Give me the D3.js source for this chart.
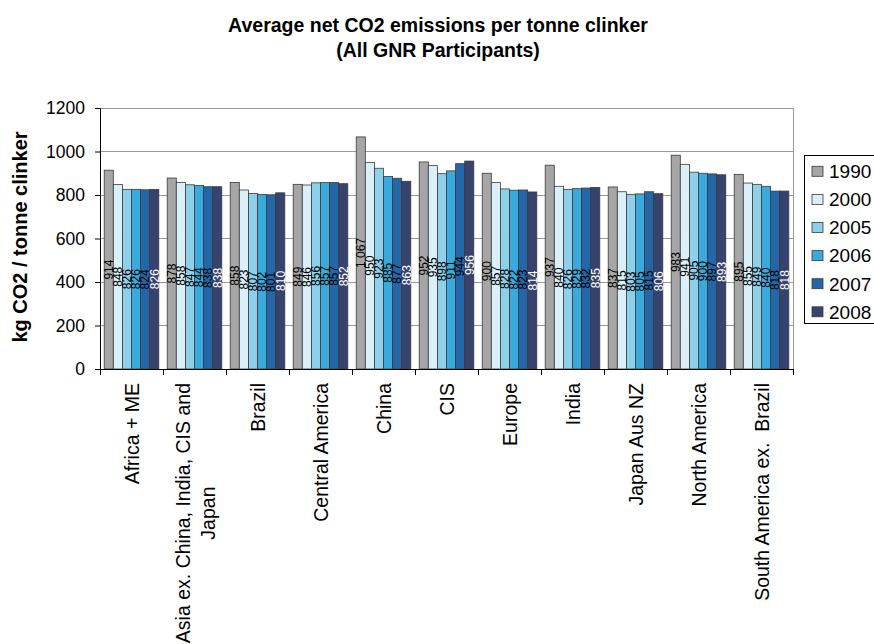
<!DOCTYPE html>
<html><head><meta charset="utf-8">
<script src="https://cdn.jsdelivr.net/npm/d3@7/dist/d3.min.js"></script>
<style>
html,body{margin:0;padding:0;background:#fff;}
svg{display:block;font-family:"Liberation Sans",Arial,sans-serif;}
</style></head>
<body>
<svg id="chart" width="874" height="644"></svg>
<script>
const categories = ["Africa + ME","Asia ex. China, India, CIS and Japan","Brazil","Central America","China","CIS","Europe","India","Japan Aus NZ","North America","South America ex.  Brazil"];
const years = ["1990","2000","2005","2006","2007","2008"];
const v1990 = [914,878,858,849,1067,952,900,937,837,983,895];
const v2000 = [848,858,823,846,950,935,857,840,815,941,855];
const v2005 = [826,847,807,856,923,898,828,826,803,905,849];
const v2006 = [826,844,802,857,885,911,822,829,805,900,840];
const v2007 = [824,838,801,857,877,944,823,832,815,897,818];
const v2008 = [826,838,810,852,863,956,814,835,806,893,818];
const yTicks = [0,200,400,600,800,1000,1200];
const colors = ["#a6a6a6","#dbeff8","#8ecfea","#3aaadc","#2467a8","#37436f"];
const labelColors = ["#000","#000","#000","#000","#000","#fff"];
const series = [v1990,v2000,v2005,v2006,v2007,v2008];

const svg = d3.select("#chart");
const L=100,R=793,T=108,B=369;

const y = d3.scaleLinear().domain([0,1200]).range([B,T]);
const x0 = d3.scaleBand().domain(categories).range([L,R]).padding(0);
const bw = x0.bandwidth();
const x1 = d3.scaleBand().domain(years).range([4.2,bw-4.2]).padding(0);

// gridlines
svg.append("g").selectAll("line").data(yTicks.filter(d=>d>0)).join("line")
  .attr("x1",L).attr("x2",R).attr("y1",d=>y(d)).attr("y2",d=>y(d))
  .attr("stroke","#999").attr("stroke-width",1).attr("shape-rendering","crispEdges");
// right border
svg.append("line").attr("x1",R).attr("x2",R).attr("y1",T).attr("y2",B)
  .attr("stroke","#999").attr("shape-rendering","crispEdges");

// bars
const data = [];
categories.forEach((c,i)=>years.forEach((yr,j)=>data.push({c,yr,j,v:series[j][i]})));
const g = svg.append("g");
g.selectAll("rect").data(data).join("rect")
  .attr("x",d=>x0(d.c)+x1(d.yr))
  .attr("y",d=>y(d.v))
  .attr("width",x1.bandwidth())
  .attr("height",d=>B-y(d.v))
  .attr("fill",d=>colors[d.j])
  .attr("stroke","#3a3a3a").attr("stroke-width",0.8);

// data labels
const fmt = d3.formatLocale({decimal:".",thousands:" ",grouping:[3],currency:["",""]}).format(",");
g.selectAll("text.dl").data(data).join("text").attr("class","dl")
  .attr("transform",d=>`translate(${x0(d.c)+x1(d.yr)+x1.bandwidth()/2},${(y(d.v)+B)/2}) rotate(-90)`)
  .attr("text-anchor","middle").attr("dy","0.36em")
  .attr("font-size","12px").attr("fill",d=>labelColors[d.j])
  .text(d=>fmt(d.v));

// y axis
const yAxis = d3.axisLeft(y).tickValues(yTicks).tickFormat(d3.format("d")).tickSize(5).tickPadding(10);
const ya = svg.append("g").attr("transform",`translate(${L},0)`).call(yAxis);
ya.select(".domain").attr("stroke","#000");
ya.selectAll(".tick line").attr("stroke","#000");
ya.selectAll(".tick text").attr("font-size","17.5px").attr("fill","#000")
  .attr("font-family","'Liberation Sans',Arial,sans-serif");

// x axis
svg.append("line").attr("x1",L).attr("x2",R).attr("y1",B).attr("y2",B).attr("stroke","#000").attr("shape-rendering","crispEdges");
const bounds = categories.map(c=>x0(c)).concat([R]);
svg.append("g").selectAll("line").data(bounds).join("line")
  .attr("x1",d=>d).attr("x2",d=>d).attr("y1",B).attr("y2",B+6)
  .attr("stroke","#000").attr("shape-rendering","crispEdges");

// x labels
const xl = svg.append("g");
const labTop = 383;
categories.forEach(c=>{
  const cx = x0(c)+bw/2;
  if(c.startsWith("Asia")){
    const l1 = "Asia ex. China, India, CIS and", l2 = "Japan";
    const t1 = xl.append("text").attr("transform",`translate(${cx-12},${labTop}) rotate(-90)`)
      .attr("text-anchor","end").attr("dy","0.36em").attr("font-size","19.5px").text(l1);
    const len = t1.node().getComputedTextLength();
    xl.append("text").attr("transform",`translate(${cx+13},${labTop+len/2}) rotate(-90)`)
      .attr("text-anchor","middle").attr("dy","0.36em").attr("font-size","19.5px").text(l2);
  } else {
    xl.append("text").attr("transform",`translate(${cx},${labTop}) rotate(-90)`)
      .attr("text-anchor","end").attr("dy","0.36em").attr("font-size","19.5px").text(c)
      .style("white-space","pre");
  }
});
xl.selectAll("text").attr("fill","#000");

// y label
svg.append("text").attr("transform","translate(20,237) rotate(-90)")
  .attr("text-anchor","middle").attr("dy","0.36em")
  .attr("font-size","20px").attr("font-weight","bold").text("kg CO2 / tonne clinker");

// title
svg.append("text").attr("x",438).attr("y",31.5).attr("text-anchor","middle")
  .attr("font-size","19.5px").attr("font-weight","bold").text("Average net CO2 emissions per tonne clinker");
svg.append("text").attr("x",438).attr("y",56.5).attr("text-anchor","middle")
  .attr("font-size","19.5px").attr("font-weight","bold").text("(All GNR Participants)");

// legend
const lg = svg.append("g");
lg.append("rect").attr("x",804.5).attr("y",155.5).attr("width",80).attr("height",168)
  .attr("fill","#fff").attr("stroke","#000");
years.forEach((yr,j)=>{
  const cy = 171.3 + j*28.1;
  lg.append("rect").attr("x",812).attr("y",cy-5).attr("width",11).attr("height",10)
    .attr("fill",colors[j]).attr("stroke","#3a3a3a").attr("stroke-width",0.8);
  lg.append("text").attr("x",829).attr("y",cy).attr("dy","0.36em")
    .attr("font-size","19px").text(yr);
});
</script>
</body></html>
